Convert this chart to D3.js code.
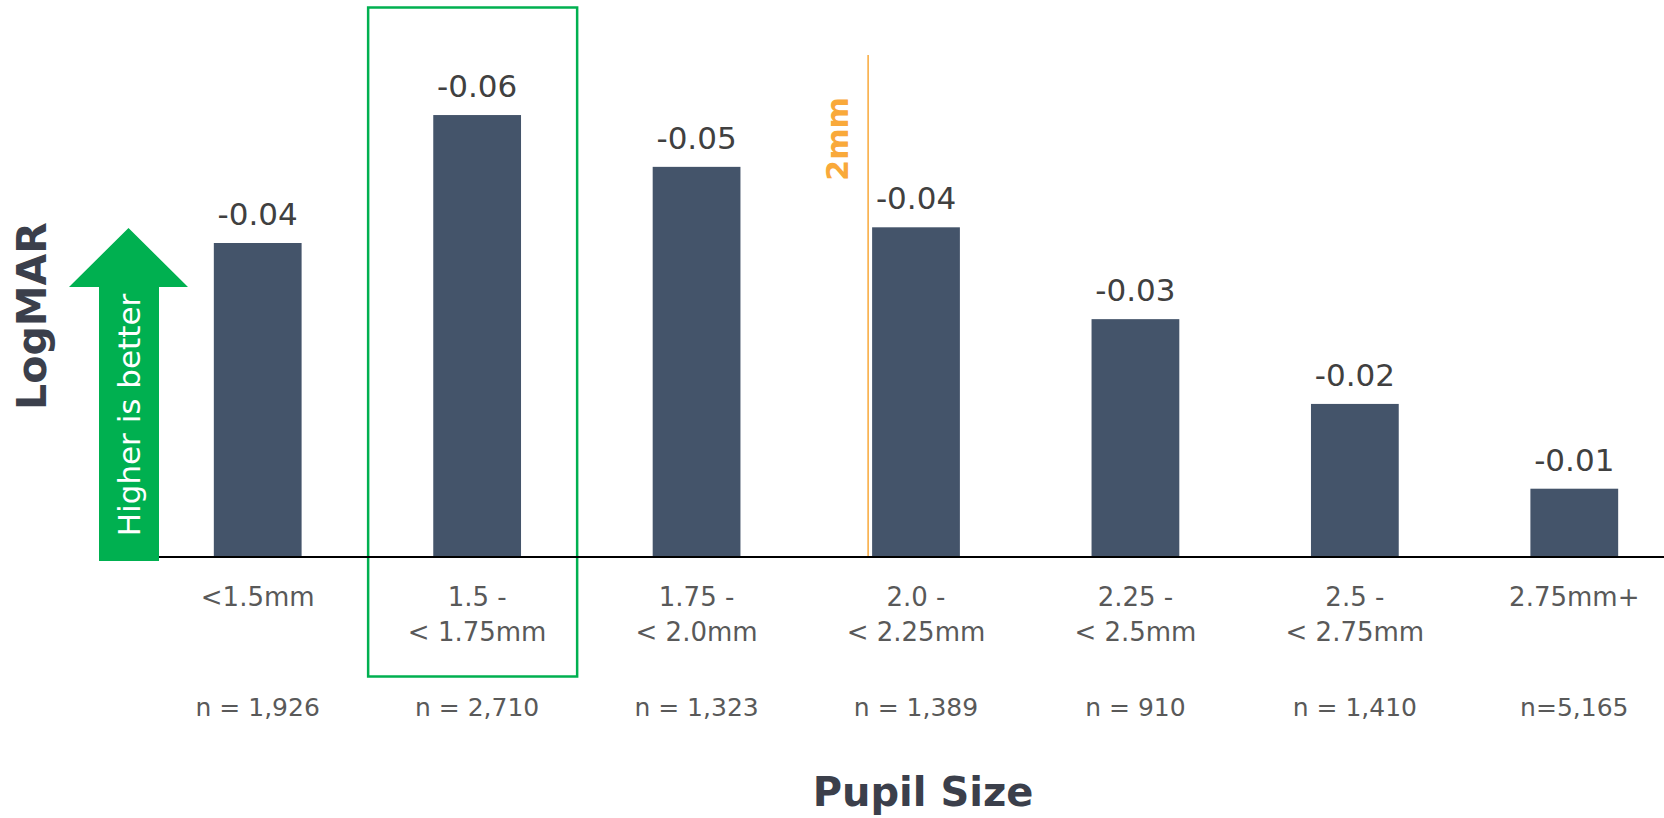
<!DOCTYPE html>
<html>
<head>
<meta charset="utf-8">
<script src="https://cdn.jsdelivr.net/npm/d3@7/dist/d3.min.js"></script>
<style>
  html, body { margin: 0; padding: 0; background: #ffffff; }
  svg { display: block; }
  text { font-family: "DejaVu Sans", "Open Sans", sans-serif; }
</style>
</head>
<body>
<svg id="chart" width="1664" height="818"></svg>
<script>
// Pupil size bins (two-line labels split on "\n")
const categories = [
  "<1.5mm",
  "1.5 -\n< 1.75mm",
  "1.75 -\n< 2.0mm",
  "2.0 -\n< 2.25mm",
  "2.25 -\n< 2.5mm",
  "2.5 -\n< 2.75mm",
  "2.75mm+"
];
// Mean LogMAR change per bin (more negative = better)
const logmar = [-0.040, -0.0563, -0.0497, -0.042, -0.0303, -0.0195, -0.0087];
// Sample size per bin
const sampleLabels = ["n = 1,926", "n = 2,710", "n = 1,323", "n = 1,389", "n = 910", "n = 1,410", "n=5,165"];
// Highlighted bin and the 2 mm threshold marker
const highlightCategory = "1.5 -\n< 1.75mm";
const thresholdCategory = "2.0 -\n< 2.25mm";
const thresholdLabel = "2mm";

const W = 1664, H = 818;
const baseY = 557;

const svg = d3.select("#chart");

const x = d3.scaleBand()
  .domain(categories)
  .range([148, 1684])
  .paddingInner(0.6)
  .paddingOuter(0.3);

// Negative values grow upward: 0 sits on the baseline
const y = d3.scaleLinear()
  .domain([0, -0.07])
  .range([baseY, 7.5]);

// Plain hyphen for the minus sign
const locale = d3.formatLocale({
  decimal: ".", thousands: ",", grouping: [3], currency: ["", ""], minus: "-"
});
const fmt = locale.format(".2f");

// Highlight frame around the best bin
const hx = x(highlightCategory) + x.bandwidth() / 2;
svg.append("rect")
  .attr("x", hx - 109)
  .attr("y", 7.5)
  .attr("width", 209)
  .attr("height", 669)
  .attr("fill", "none")
  .attr("stroke", "#00b050")
  .attr("stroke-width", 2.5);

// Bars
svg.append("g")
  .selectAll("rect")
  .data(categories)
  .join("rect")
  .attr("x", d => x(d))
  .attr("y", (d, i) => y(logmar[i]))
  .attr("width", x.bandwidth())
  .attr("height", (d, i) => baseY - y(logmar[i]))
  .attr("fill", "#44546a");

// 2 mm threshold line
const tx = x(thresholdCategory) - 4;
svg.append("line")
  .attr("x1", tx).attr("x2", tx)
  .attr("y1", 55).attr("y2", baseY)
  .attr("stroke", "#f9a93a")
  .attr("stroke-width", 1.5);
svg.append("text")
  .attr("transform", `translate(${tx - 31},139) rotate(-90)`)
  .attr("text-anchor", "middle")
  .attr("dominant-baseline", "central")
  .attr("font-weight", "bold")
  .attr("font-size", 30)
  .attr("fill", "#f9a93a")
  .text(thresholdLabel);

// Baseline axis with category labels
const axis = d3.axisBottom(x).tickSize(0).tickFormat("");
const axisG = svg.append("g")
  .attr("transform", `translate(0,${baseY})`)
  .call(axis);
axisG.select(".domain")
  .attr("d", `M159,0H${W}`)
  .attr("stroke", "#000")
  .attr("stroke-width", 2);

const ticks = axisG.selectAll(".tick");
ticks.append("text")
  .attr("text-anchor", "middle")
  .attr("font-size", 26)
  .attr("fill", "#595959")
  .each(function(d) {
    const lines = d.split("\n");
    d3.select(this).selectAll("tspan")
      .data(lines)
      .join("tspan")
      .attr("x", 0)
      .attr("y", (l, i) => 49 + i * 35)
      .text(l => l);
  });

// Sample sizes
svg.append("g")
  .selectAll("text")
  .data(categories)
  .join("text")
  .attr("x", d => x(d) + x.bandwidth() / 2)
  .attr("y", 716)
  .attr("text-anchor", "middle")
  .attr("font-size", 25)
  .attr("fill", "#595959")
  .text((d, i) => sampleLabels[i]);

// Value labels above bars
svg.append("g")
  .selectAll("text")
  .data(categories)
  .join("text")
  .attr("x", d => x(d) + x.bandwidth() / 2)
  .attr("y", (d, i) => y(logmar[i]) - 18)
  .attr("text-anchor", "middle")
  .attr("font-size", 31)
  .attr("fill", "#404040")
  .text((d, i) => fmt(logmar[i]));

// "Higher is better" arrow
const arrow = d3.path();
arrow.moveTo(99, 561);
arrow.lineTo(99, 287);
arrow.lineTo(69, 287);
arrow.lineTo(128.5, 228);
arrow.lineTo(188, 287);
arrow.lineTo(159, 287);
arrow.lineTo(159, 561);
arrow.closePath();
svg.append("path")
  .attr("d", arrow.toString())
  .attr("fill", "#00b050");
svg.append("text")
  .attr("transform", "translate(129,415) rotate(-90)")
  .attr("text-anchor", "middle")
  .attr("dominant-baseline", "central")
  .attr("font-size", 31)
  .attr("fill", "#ffffff")
  .text("Higher is better");

// Axis titles
svg.append("text")
  .attr("transform", "translate(32,316) rotate(-90)")
  .attr("text-anchor", "middle")
  .attr("dominant-baseline", "central")
  .attr("font-weight", "bold")
  .attr("font-size", 41)
  .attr("fill", "#3b3f4b")
  .text("LogMAR");

svg.append("text")
  .attr("x", 923)
  .attr("y", 806)
  .attr("text-anchor", "middle")
  .attr("font-weight", "bold")
  .attr("font-size", 40)
  .attr("fill", "#3b3f4b")
  .text("Pupil Size");
</script>
</body>
</html>
